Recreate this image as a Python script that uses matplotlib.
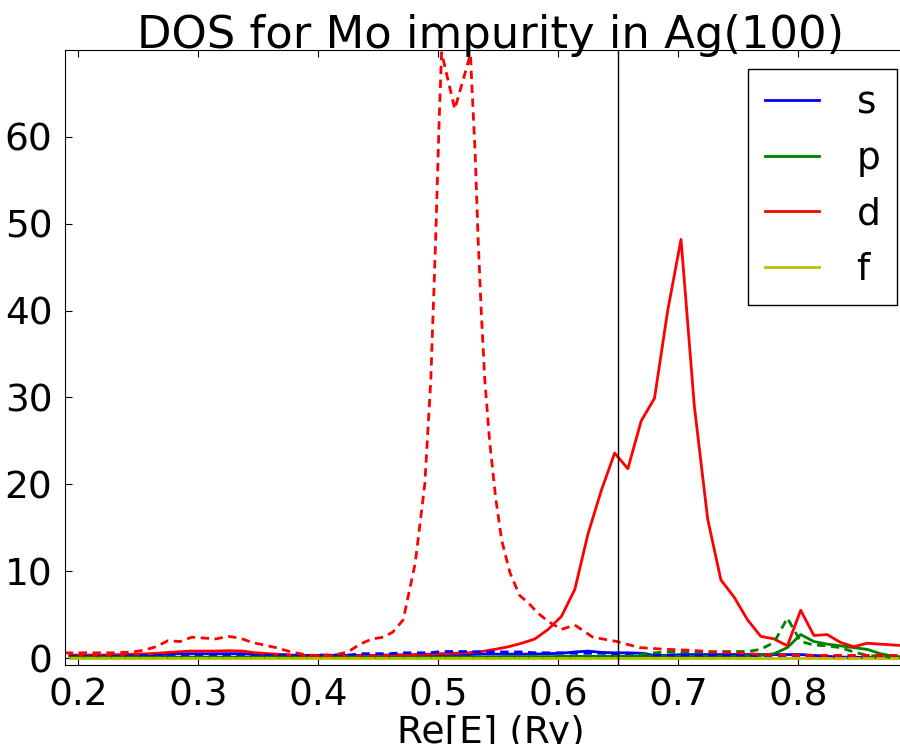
import matplotlib
matplotlib.use("Agg")
import matplotlib.pyplot as plt
import numpy as np

# energy grid of the solid curves (Ry)
e = np.round(0.1933 + 0.01107 * np.arange(64), 4)

# solid curves, one value per point of e
s_sol = [0.3, 0.3, 0.3, 0.3, 0.35, 0.35, 0.35, 0.4, 0.5, 0.5, 0.5, 0.5, 0.5, 0.5, 0.4, 0.4,
         0.4, 0.3, 0.3, 0.3, 0.3, 0.3, 0.3, 0.3, 0.35, 0.35, 0.35, 0.35, 0.4, 0.4, 0.4, 0.45,
         0.45, 0.45, 0.45, 0.45, 0.5, 0.55, 0.7, 0.8, 0.65, 0.6, 0.6, 0.55, 0.3, 0.3, 0.4, 0.4,
         0.4, 0.4, 0.4, 0.4, 0.4, 0.4, 0.4, 0.4, 0.3, 0.2, 0.1, 0.1, 0.05, 0.05, 0.0, 0.0]
p_sol = [0.1, 0.1, 0.1, 0.1, 0.1, 0.1, 0.1, 0.1, 0.1, 0.1, 0.1, 0.1, 0.1, 0.1, 0.1, 0.1,
         0.1, 0.1, 0.1, 0.1, 0.1, 0.1, 0.1, 0.1, 0.1, 0.1, 0.1, 0.1, 0.1, 0.1, 0.1, 0.1,
         0.1, 0.15, 0.15, 0.15, 0.15, 0.2, 0.2, 0.2, 0.2, 0.2, 0.2, 0.2, 0.2, 0.2, 0.2, 0.2,
         0.2, 0.2, 0.2, 0.25, 0.3, 0.5, 1.2, 2.7, 1.9, 1.6, 1.4, 1.2, 1.0, 0.5, 0.2, 0.1]
d_sol = [0.35, 0.35, 0.35, 0.35, 0.4, 0.45, 0.5, 0.6, 0.7, 0.8, 0.8, 0.8, 0.85, 0.8, 0.6, 0.5,
         0.4, 0.3, 0.25, 0.2, 0.2, 0.2, 0.25, 0.3, 0.3, 0.35, 0.4, 0.45, 0.5, 0.55, 0.6, 0.75,
         1.0, 1.3, 1.7, 2.2, 3.3, 4.8, 7.9, 14.3, 19.3, 23.6, 21.8, 27.3, 29.9, 40.0, 48.2, 29.0,
         16.0, 9.0, 7.0, 4.4, 2.5, 2.2, 1.4, 5.5, 2.6, 2.7, 1.8, 1.3, 1.7, 1.6, 1.5, 1.4]
f_sol = [0.05, 0.05, 0.05, 0.05, 0.05, 0.05, 0.05, 0.05, 0.05, 0.05, 0.05, 0.05, 0.05, 0.05, 0.05, 0.05,
         0.05, 0.05, 0.05, 0.05, 0.05, 0.05, 0.05, 0.05, 0.05, 0.05, 0.05, 0.05, 0.05, 0.05, 0.05, 0.05,
         0.05, 0.05, 0.05, 0.05, 0.05, 0.05, 0.05, 0.05, 0.05, 0.05, 0.05, 0.05, 0.05, 0.05, 0.05, 0.05,
         0.05, 0.05, 0.05, 0.05, 0.05, 0.05, 0.05, 0.05, 0.05, 0.05, 0.05, 0.05, 0.05, 0.05, 0.05, 0.05]

# dashed curves on the same grid
s_dash = [0.2, 0.2, 0.2, 0.2, 0.2, 0.3, 0.3, 0.3, 0.35, 0.35, 0.35, 0.35, 0.35, 0.35, 0.3, 0.3,
          0.3, 0.3, 0.3, 0.35, 0.35, 0.35, 0.5, 0.5, 0.5, 0.6, 0.6, 0.6, 0.75, 0.75, 0.75, 0.7,
          0.7, 0.7, 0.7, 0.6, 0.6, 0.6, 0.55, 0.55, 0.55, 0.5, 0.5, 0.5, 0.35, 0.35, 0.35, 0.35,
          0.35, 0.35, 0.35, 0.35, 0.3, 0.3, 0.3, 0.3, 0.3, 0.15, 0.1, 0.1, 0.05, 0.05, 0.05, 0.05]
p_dash = [0.1, 0.1, 0.1, 0.1, 0.1, 0.1, 0.1, 0.1, 0.1, 0.1, 0.1, 0.1, 0.1, 0.1, 0.1, 0.1,
          0.1, 0.1, 0.1, 0.1, 0.1, 0.1, 0.1, 0.1, 0.1, 0.1, 0.1, 0.1, 0.1, 0.1, 0.1, 0.1,
          0.1, 0.1, 0.1, 0.1, 0.1, 0.1, 0.1, 0.15, 0.15, 0.15, 0.2, 0.4, 0.6, 0.7, 0.7, 0.7,
          0.7, 0.75, 0.75, 0.75, 1.0, 1.8, 4.6, 1.9, 1.5, 1.4, 1.2, 0.7, 0.3, 0.2, 0.1, 0.1]
f_dash = [0.05, 0.05, 0.05, 0.05, 0.05, 0.05, 0.05, 0.05, 0.05, 0.05, 0.05, 0.05, 0.05, 0.05, 0.05, 0.05,
          0.05, 0.05, 0.05, 0.05, 0.05, 0.05, 0.05, 0.05, 0.05, 0.05, 0.05, 0.05, 0.05, 0.05, 0.05, 0.05,
          0.05, 0.05, 0.05, 0.05, 0.05, 0.05, 0.05, 0.05, 0.05, 0.05, 0.05, 0.05, 0.05, 0.05, 0.05, 0.05,
          0.05, 0.05, 0.05, 0.05, 0.05, 0.05, 0.05, 0.05, 0.05, 0.05, 0.05, 0.05, 0.05, 0.05, 0.05, 0.05]

# the dashed d curve has its own, denser energy points
e_d_dash = [0.189, 0.2, 0.215, 0.23, 0.245, 0.255, 0.265, 0.275, 0.285, 0.295, 0.305, 0.315,
            0.325, 0.335, 0.345, 0.355, 0.365, 0.375, 0.385, 0.395, 0.405, 0.415, 0.425, 0.435,
            0.445, 0.4545, 0.4625, 0.471, 0.481, 0.489, 0.494, 0.498, 0.501, 0.503, 0.514, 0.527,
            0.531, 0.5335, 0.536, 0.539, 0.543, 0.548, 0.553, 0.56, 0.568, 0.575, 0.583, 0.592,
            0.603, 0.614, 0.629, 0.649, 0.668, 0.69, 0.71, 0.73, 0.75, 0.77, 0.79, 0.81,
            0.83, 0.85, 0.87, 0.898]
d_dash = [0.6, 0.6, 0.6, 0.6, 0.7, 0.9, 1.3, 2.0, 1.9, 2.4, 2.3, 2.2,
          2.5, 2.3, 1.8, 1.5, 1.2, 0.8, 0.5, 0.3, 0.3, 0.4, 0.7, 1.6,
          2.2, 2.4, 3.0, 4.4, 10.9, 20.0, 32.0, 48.0, 62.0, 69.7, 63.2, 69.5,
          58.0, 48.0, 40.0, 32.0, 25.0, 18.5, 13.6, 9.8, 7.2, 6.4, 5.2, 4.2,
          3.3, 3.8, 2.4, 1.9, 1.2, 1.0, 0.9, 0.7, 0.6, 0.4, 0.35, 0.3,
          0.3, 0.3, 0.3, 0.3]

labels = ['s', 'p', 'd', 'f']
colors = ['b', 'g', 'r', 'y']

plt.rcParams['font.family'] = 'DejaVu Sans'
plt.rcParams['xtick.direction'] = 'in'
plt.rcParams['ytick.direction'] = 'in'
plt.rcParams['xtick.top'] = True
plt.rcParams['ytick.right'] = True

fig = plt.figure(figsize=(9, 7.44), dpi=100)
ax = fig.add_axes([0.0722, 0.1062, 0.9456, 0.8266])

sol = [s_sol, p_sol, d_sol, f_sol]
for y, lab, c in zip(sol, labels, colors):
    ax.plot(e, y, color=c, lw=2, label=lab)

ax.plot(e, s_dash, color='b', lw=2, ls=(0, (3, 2)))
ax.plot(e, p_dash, color='g', lw=2, ls=(0, (3, 2)))
ax.plot(e_d_dash, d_dash, color='r', lw=2, ls=(0, (3, 2)))
ax.plot(e, f_dash, color='y', lw=2, ls=(0, (3, 2)))

ax.axvline(0.65, color='k', lw=1)

ax.set_xlim(0.1892, 0.8983)
ax.set_ylim(-0.8, 70)
ax.set_xticks([0.2, 0.3, 0.4, 0.5, 0.6, 0.7, 0.8])
ax.set_yticks([0, 10, 20, 30, 40, 50, 60])
ax.tick_params(labelsize=27, pad=9, length=5)
ax.set_xlabel("Re[E] (Ry)", fontsize=27, labelpad=1)
ax.text(0.5, 1.004, "DOS for Mo impurity in Ag(100)", transform=ax.transAxes,
        ha='center', va='baseline', fontsize=32.3)

leg = ax.legend(loc='upper right', fontsize=27, fancybox=False, framealpha=1,
                edgecolor='k', borderaxespad=0.5, handlelength=1.45,
                handletextpad=1.0, labelspacing=0.52, borderpad=0.45)
leg.get_frame().set_linewidth(1)

fig.savefig("out.png", dpi=100)
